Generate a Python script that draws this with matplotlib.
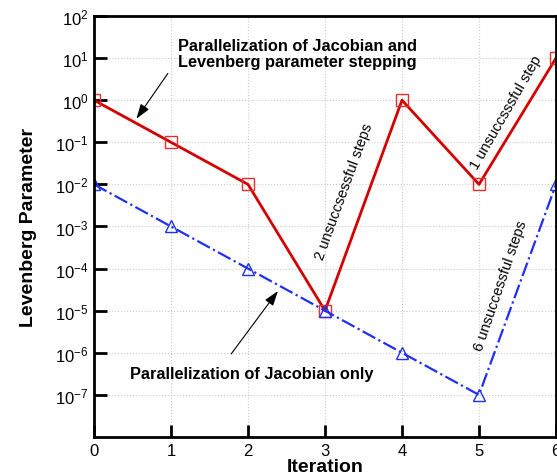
import math
import matplotlib
matplotlib.use("Agg")
import matplotlib.pyplot as plt
from matplotlib.ticker import FixedLocator, FuncFormatter

plt.rcParams["font.family"] = ["Liberation Sans", "DejaVu Sans"]
plt.rcParams["mathtext.fontset"] = "custom"
plt.rcParams["mathtext.rm"] = "Liberation Sans"
plt.rcParams["mathtext.it"] = "Liberation Sans"

# iteration vs Levenberg parameter
iters = [0, 1, 2, 3, 4, 5, 6]
lev_both = [1.0, 1e-1, 1e-2, 1e-5, 1.0, 1e-2, 10.0]
lev_jac = [1e-2, 1e-3, 1e-4, 1e-5, 1e-6, 1e-7, 1e-2]
ydecades = [-7, -6, -5, -4, -3, -2, -1, 0, 1, 2]

fig = plt.figure(figsize=(5.57, 4.77), dpi=100)
ax = fig.add_axes([0.1688, 0.0818, 0.8294, 0.8826])

ax.plot(iters, lev_both, "-", color="#d40000", lw=2.0, marker="s", ms=8,
        mfc="none", mec="#e03030", mew=1.0)
ax.plot(iters, lev_jac, "-.", color="#2030f0", lw=1.6, marker="^", ms=9,
        mfc="none", mec="#2030f0", mew=1.0)

ax.set_yscale("log")
ax.set_ylim(1e-8, 1e2)
ax.set_xlim(0, 6)
ax.yaxis.set_major_locator(FixedLocator([10.0 ** d for d in ydecades]))
ax.yaxis.set_minor_locator(FixedLocator([]))
ax.yaxis.set_major_formatter(FuncFormatter(lambda v, p: r"$10^{%d}$" % round(math.log10(v))))
ax.set_xticks(iters)
ax.tick_params(direction="in", length=9, width=2, labelsize=12, pad=4)
ax.grid(True, ls=":", color="#cccccc", lw=0.8)
for s in ax.spines.values():
    s.set_linewidth(2)

ax.set_xlabel("Iteration", fontsize=14, fontweight="bold", labelpad=0)
ax.set_ylabel("Levenberg Parameter", fontsize=14, fontweight="bold", labelpad=13)

ax.annotate("", xy=(0.53, 0.32), xytext=(0.98, 4.9),
            arrowprops=dict(arrowstyle="-|>,head_length=0.9,head_width=0.3",
                            color="black", lw=0.8))
ax.text(1.09, 10 ** 1.47, "Parallelization of Jacobian and\nLevenberg parameter stepping",
        fontsize=11.8, fontweight="bold", ha="left", va="top", linespacing=1.1)

ax.annotate("", xy=(2.41, 10 ** -4.48), xytext=(1.76, 10 ** -6.08),
            arrowprops=dict(arrowstyle="-|>,head_length=0.9,head_width=0.3",
                            color="black", lw=0.8))
ax.text(0.47, 10 ** -6.5, "Parallelization of Jacobian only",
        fontsize=11.8, fontweight="bold", ha="left", va="center")

ax.text(3.25, 10 ** -2.16, "2 unsuccsessful steps", rotation=70, fontsize=10.5,
        ha="center", va="center", rotation_mode="anchor")
ax.text(5.35, 10 ** -0.28, "1 unsuccsssful step", rotation=60, fontsize=10.5,
        ha="center", va="center", rotation_mode="anchor")
ax.text(5.28, 10 ** -4.39, "6 unsuccessful steps", rotation=71, fontsize=10.5,
        ha="center", va="center", rotation_mode="anchor")

fig.savefig("out.png", dpi=100)
